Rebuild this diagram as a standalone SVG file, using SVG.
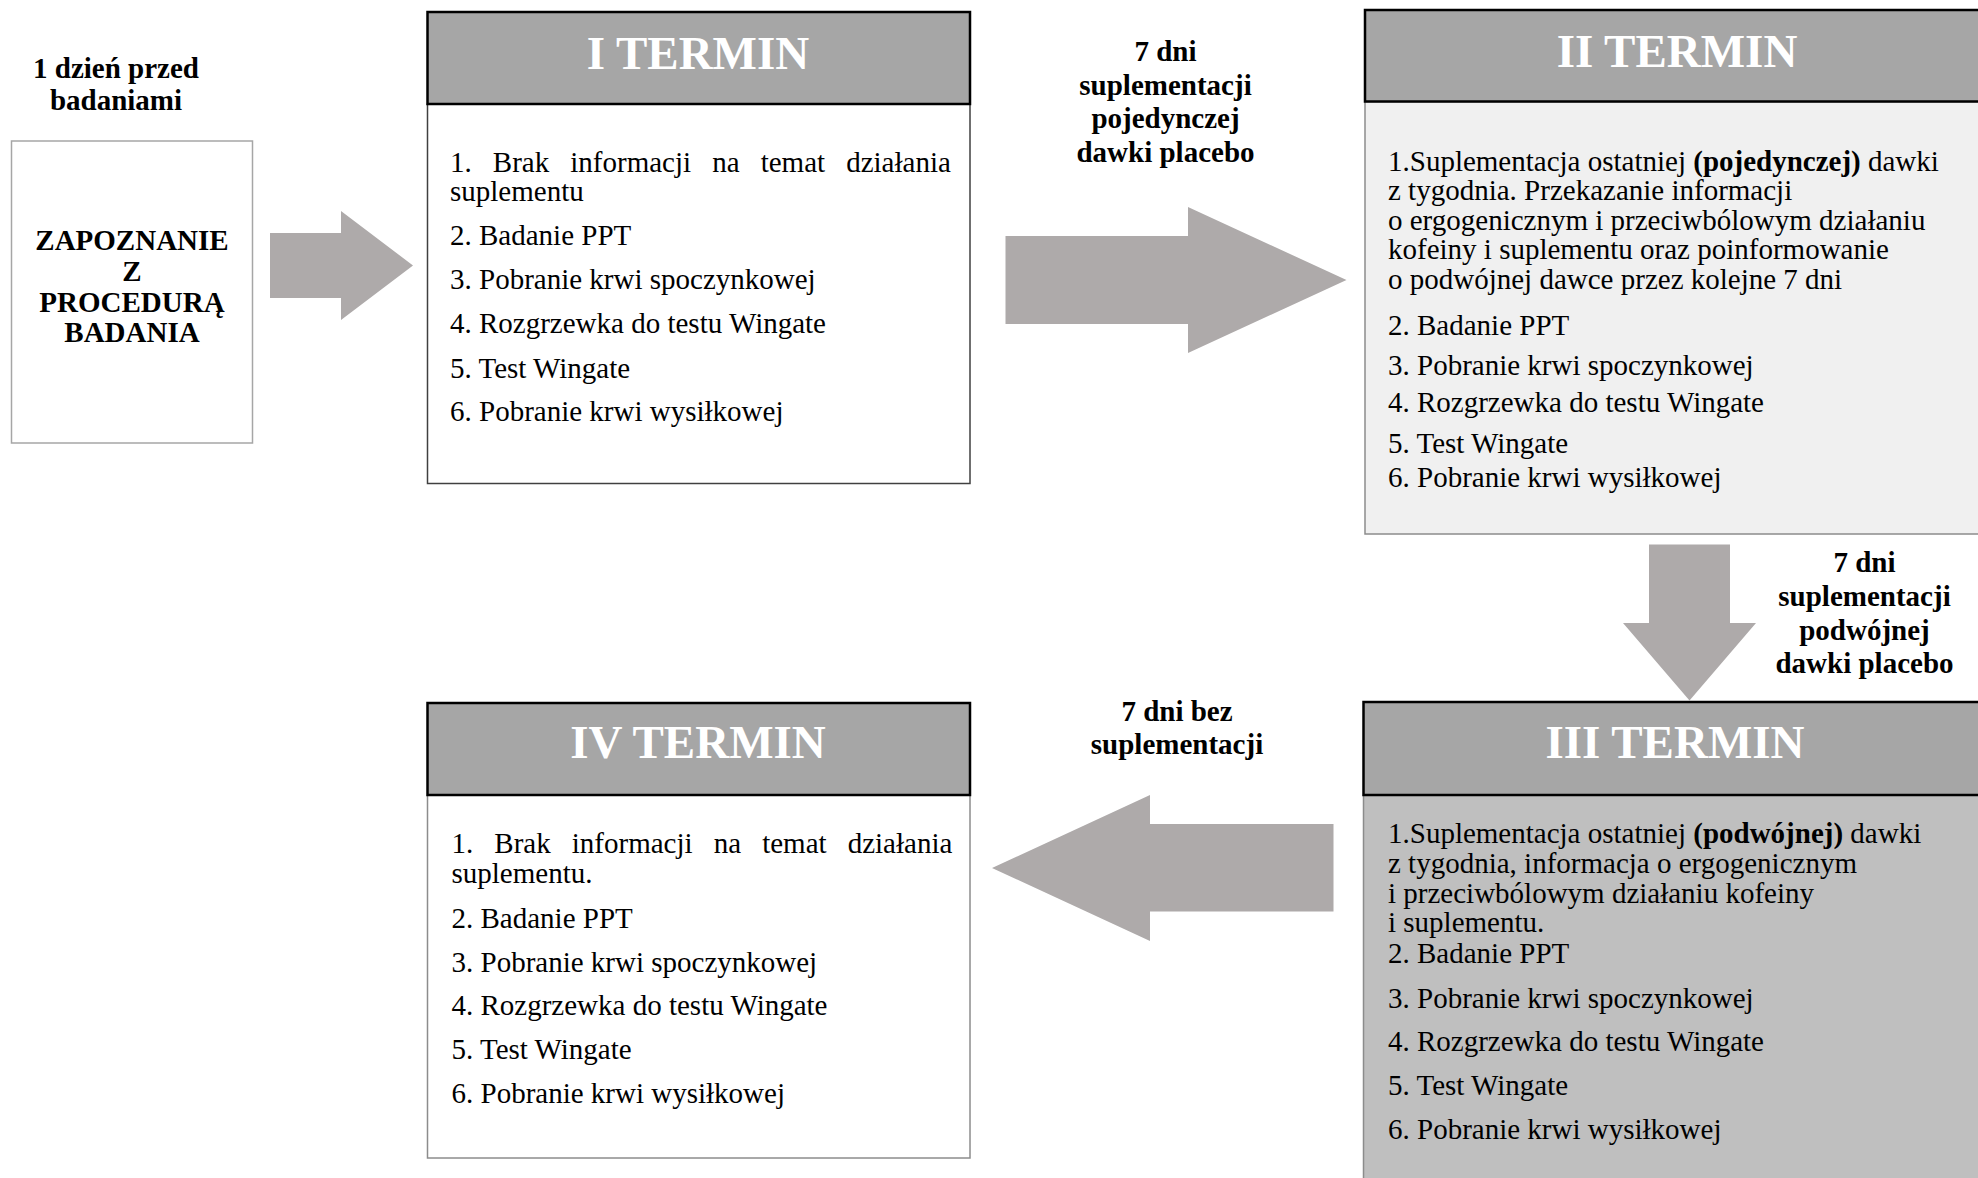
<svg xmlns="http://www.w3.org/2000/svg" width="1978" height="1178" viewBox="0 0 1978 1178">
<style>
.t{font-family:"Liberation Serif","Times New Roman",serif;font-size:29px;fill:#000}
.b{font-weight:bold}
.c{text-anchor:middle}
.h{font-family:"Liberation Serif","Times New Roman",serif;font-size:47px;font-weight:bold;fill:#fff;text-anchor:middle}
.hdr{fill:#a6a6a6;stroke:#000;stroke-width:2.5}
.arrow{fill:#aeaaaa;stroke:none}
</style>
<rect width="1978" height="1178" fill="#fff"/>

<g id="label-start">
<text class="t b c" x="116" y="77.5">1 dzień przed</text>
<text class="t b c" x="116" y="110">badaniami</text>
</g>

<g id="node-zapoznanie">
<rect x="11.5" y="141" width="241" height="302" fill="#fff" stroke="#a6a6a6" stroke-width="1.5"/>
<text class="t b c" x="132" y="250">ZAPOZNANIE</text>
<text class="t b c" x="132" y="281">Z</text>
<text class="t b c" x="132" y="312">PROCEDURĄ</text>
<text class="t b c" x="132" y="342">BADANIA</text>
</g>

<g id="connectors">
<polygon class="arrow" points="270,233 341,233 341,211 413,265.5 341,320 341,298 270,298"/>
<polygon class="arrow" points="1005.5,236 1188,236 1188,207 1346.5,280 1188,353 1188,324 1005.5,324"/>
<polygon class="arrow" points="1649,544.5 1730,544.5 1730,623 1756,623 1689.5,700.5 1623,623 1649,623"/>
<polygon class="arrow" points="1333.5,824 1150,824 1150,795 992,868 1150,941 1150,911.5 1333.5,911.5"/>
</g>

<g id="label-a2">
<text class="t b c" x="1165.5" y="61">7 dni</text>
<text class="t b c" x="1165.5" y="94.5">suplementacji</text>
<text class="t b c" x="1165.5" y="128">pojedynczej</text>
<text class="t b c" x="1165.5" y="161.5">dawki placebo</text>
</g>

<g id="label-a3">
<text class="t b c" x="1864.5" y="571.5">7 dni</text>
<text class="t b c" x="1864.5" y="605.5">suplementacji</text>
<text class="t b c" x="1864.5" y="639.5">podwójnej</text>
<text class="t b c" x="1864.5" y="673">dawki placebo</text>
</g>

<g id="label-a4">
<text class="t b c" x="1177" y="721">7 dni bez</text>
<text class="t b c" x="1177" y="754">suplementacji</text>
</g>

<g id="node-termin1">
<rect x="427.5" y="104" width="542.5" height="379.5" fill="#fff" stroke="#404040" stroke-width="1.5"/>
<rect class="hdr" x="427.5" y="12" width="542.5" height="92"/>
<text class="h" x="698" y="69">I TERMIN</text>
<text class="t" y="171.5"><tspan x="450">1.</tspan><tspan x="492.8">Brak</tspan><tspan x="570.3">informacji</tspan><tspan x="712.2">na</tspan><tspan x="760.7">temat</tspan><tspan x="846.2">działania</tspan></text>
<text class="t" x="450" y="200.5">suplementu</text>
<text class="t" x="450" y="245">2. Badanie PPT</text>
<text class="t" x="450" y="289">3. Pobranie krwi spoczynkowej</text>
<text class="t" x="450" y="333">4. Rozgrzewka do testu Wingate</text>
<text class="t" x="450" y="377.5">5. Test Wingate</text>
<text class="t" x="450" y="421">6. Pobranie krwi wysiłkowej</text>
</g>

<g id="node-termin2">
<rect x="1365" y="101.5" width="630" height="432.5" fill="#f0f0f0" stroke="#8c8c8c" stroke-width="1.5"/>
<rect class="hdr" x="1365" y="10" width="630" height="91.5"/>
<text class="h" x="1677" y="66.7">II TERMIN</text>
<text class="t" x="1388" y="170.7">1.Suplementacja ostatniej <tspan class="b">(pojedynczej)</tspan> dawki</text>
<text class="t" x="1388" y="200">z tygodnia. Przekazanie informacji</text>
<text class="t" x="1388" y="229.5">o ergogenicznym i przeciwbólowym działaniu</text>
<text class="t" x="1388" y="259">kofeiny i suplementu oraz poinformowanie</text>
<text class="t" x="1388" y="288.5">o podwójnej dawce przez kolejne 7 dni</text>
<text class="t" x="1388" y="334.5">2. Badanie PPT</text>
<text class="t" x="1388" y="374.5">3. Pobranie krwi spoczynkowej</text>
<text class="t" x="1388" y="411.7">4. Rozgrzewka do testu Wingate</text>
<text class="t" x="1388" y="452.5">5. Test Wingate</text>
<text class="t" x="1388" y="486.5">6. Pobranie krwi wysiłkowej</text>
</g>

<g id="node-termin3">
<rect x="1363.5" y="795" width="630" height="400" fill="#bfbfbf" stroke="#8c8c8c" stroke-width="1.5"/>
<rect class="hdr" x="1363.5" y="702" width="630" height="93"/>
<text class="h" x="1675" y="758.3">III TERMIN</text>
<text class="t" x="1388" y="843.3">1.Suplementacja ostatniej <tspan class="b">(podwójnej)</tspan> dawki</text>
<text class="t" x="1388" y="873.3">z tygodnia, informacja o ergogenicznym</text>
<text class="t" x="1388" y="902.5">i przeciwbólowym działaniu kofeiny</text>
<text class="t" x="1388" y="932">i suplementu.</text>
<text class="t" x="1388" y="962.7">2. Badanie PPT</text>
<text class="t" x="1388" y="1008">3. Pobranie krwi spoczynkowej</text>
<text class="t" x="1388" y="1050.5">4. Rozgrzewka do testu Wingate</text>
<text class="t" x="1388" y="1095">5. Test Wingate</text>
<text class="t" x="1388" y="1139">6. Pobranie krwi wysiłkowej</text>
</g>

<g id="node-termin4">
<rect x="427.5" y="795" width="542.5" height="363" fill="#fff" stroke="#8c8c8c" stroke-width="1.5"/>
<rect class="hdr" x="427.5" y="703" width="542.5" height="92"/>
<text class="h" x="698" y="758.3">IV TERMIN</text>
<text class="t" y="853"><tspan x="451.5">1.</tspan><tspan x="494.3">Brak</tspan><tspan x="571.8">informacji</tspan><tspan x="713.7">na</tspan><tspan x="762.2">temat</tspan><tspan x="847.7">działania</tspan></text>
<text class="t" x="451.5" y="882.5">suplementu.</text>
<text class="t" x="451.5" y="928">2. Badanie PPT</text>
<text class="t" x="451.5" y="971.5">3. Pobranie krwi spoczynkowej</text>
<text class="t" x="451.5" y="1015">4. Rozgrzewka do testu Wingate</text>
<text class="t" x="451.5" y="1058.5">5. Test Wingate</text>
<text class="t" x="451.5" y="1103">6. Pobranie krwi wysiłkowej</text>
</g>
</svg>
